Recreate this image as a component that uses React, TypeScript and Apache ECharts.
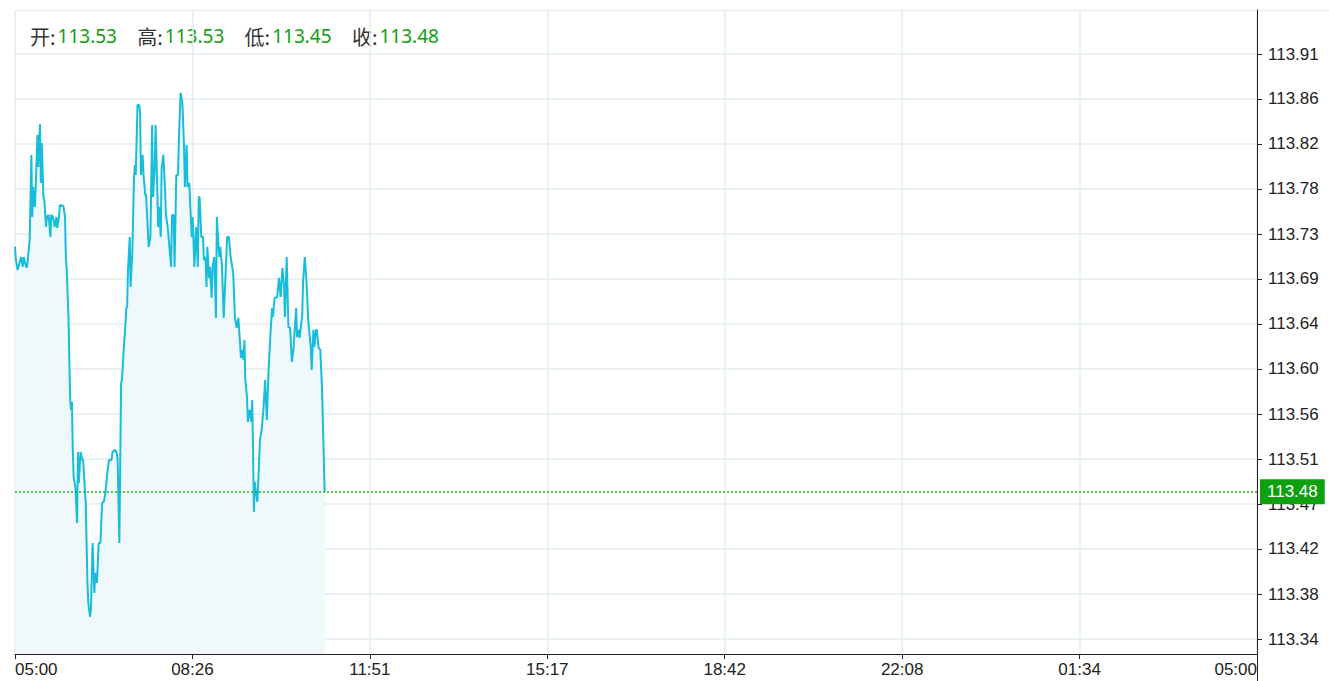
import React, { useEffect, useRef } from "react";
import * as echarts from "echarts";

// Minute quotes (time of day, price)
const times = [
  "05:00","05:01","05:03","05:07","05:09","05:10","05:13","05:14","05:17","05:19",
  "05:20","05:21","05:23","05:24","05:26","05:27","05:28","05:29","05:30","05:31",
  "05:33","05:34","05:36","05:37","05:39","05:41","05:42","05:44","05:46","05:48",
  "05:49","05:51","05:52","05:56","05:58","05:59","06:00","06:02","06:04","06:05",
  "06:06","06:07","06:08","06:10","06:12","06:13","06:14","06:16","06:18","06:19",
  "06:22","06:24","06:25","06:27","06:28","06:30","06:32","06:33","06:35","06:37",
  "06:39","06:41","06:43","06:45","06:47","06:49","06:52","06:53","06:56","06:58",
  "06:59","07:01","07:03","07:04","07:06","07:08","07:09","07:10","07:11","07:13",
  "07:14","07:16","07:18","07:19","07:20","07:22","07:24","07:25","07:26","07:28",
  "07:29","07:31","07:32","07:35","07:37","07:39","07:40","07:42","07:43","07:45",
  "07:46","07:47","07:49","07:50","07:52","07:54","07:55","07:57","07:59","08:01",
  "08:02","08:04","08:05","08:07","08:09","08:10","08:12","08:14","08:16","08:17",
  "08:19","08:20","08:22","08:24","08:25","08:26","08:28","08:30","08:32","08:33",
  "08:34","08:36","08:38","08:39","08:41","08:42","08:43","08:45","08:46","08:48",
  "08:49","08:51","08:53","08:54","08:56","08:57","08:58","09:00","09:02","09:04",
  "09:06","09:08","09:10","09:13","09:15","09:17","09:19","09:22","09:23","09:25",
  "09:26","09:27","09:29","09:30","09:32","09:34","09:35","09:36","09:37","09:38",
  "09:39","09:41","09:43","09:44","09:46","09:48","09:50","09:52","09:54","09:56",
  "09:58","09:59","10:01","10:04","10:06","10:08","10:10","10:12","10:13","10:15",
  "10:17","10:19","10:21","10:23","10:25","10:26","10:27","10:29","10:30","10:33",
  "10:34","10:36","10:38","10:40","10:41","10:43","10:44","10:46","10:47","10:49",
  "10:50","10:52","10:54","10:55","10:56","10:57","10:59",
];

const prices = [
  113.7191,113.7061,113.6964,113.7090,113.6993,113.7090,113.6993,113.6993,113.7256,113.8085,
  113.7480,113.7773,113.7578,113.7773,113.8280,113.7968,113.8231,113.8387,113.7812,113.8202,
  113.7675,113.7646,113.7383,113.7480,113.7500,113.7285,113.7500,113.7480,113.7383,113.7480,
  113.7373,113.7480,113.7597,113.7588,113.7480,113.7090,113.6964,113.6505,113.5696,113.5599,
  113.5677,113.5209,113.4945,113.4848,113.4497,113.5189,113.4887,113.5189,113.5111,113.5111,
  113.4692,113.3912,113.3717,113.3580,113.3649,113.4302,113.3814,113.4009,113.3912,113.4302,
  113.4302,113.4692,113.4702,113.4799,113.4984,113.5111,113.5111,113.5189,113.5209,113.5179,
  113.5111,113.4302,113.5862,113.5891,113.6184,113.6427,113.6593,113.6603,113.6964,113.7285,
  113.6798,113.7129,113.7870,113.7987,113.7890,113.8572,113.8572,113.8504,113.7890,113.8085,
  113.7890,113.7695,113.7695,113.7188,113.7285,113.8377,113.7675,113.7958,113.8377,113.7744,
  113.7383,113.7578,113.7285,113.7958,113.8085,113.7744,113.7500,113.7383,113.7188,113.6993,
  113.7500,113.7500,113.6993,113.7890,113.7890,113.8231,113.8689,113.8602,113.8163,113.7773,
  113.8182,113.7773,113.7812,113.7451,113.7285,113.7480,113.6993,113.7383,113.6993,113.7675,
  113.7675,113.7285,113.7285,113.7061,113.7090,113.6798,113.7188,113.6886,113.6993,113.6691,
  113.6993,113.7090,113.6496,113.7480,113.7188,113.7090,113.7188,113.6993,113.6496,113.6895,
  113.7285,113.7285,113.7090,113.6934,113.6496,113.6398,113.6496,113.6106,113.6184,113.6086,
  113.6281,113.5891,113.5725,113.5482,113.5599,113.5482,113.5696,113.5209,113.4604,113.4897,
  113.4819,113.4702,113.5082,113.5306,113.5404,113.5599,113.5891,113.5501,113.5989,113.6310,
  113.6593,113.6505,113.6691,113.6700,113.6886,113.6700,113.6983,113.6798,113.6505,113.7090,
  113.6408,113.6398,113.6067,113.6203,113.6476,113.6593,113.6310,113.6379,113.6301,113.6525,
  113.6847,113.7090,113.6847,113.6476,113.6379,113.6203,113.5989,113.6379,113.6213,113.6379,
  113.6379,113.6203,113.6184,113.5989,113.5794,113.5472,113.4800,
];

const xTickLabels = ["05:00", "08:26", "11:51", "15:17", "18:42", "22:08", "01:34", "05:00"];
const yTicks = [
  113.3365, 113.3804, 113.4243, 113.4681, 113.512, 113.5559, 113.5998,
  113.6437, 113.6876, 113.7314, 113.7753, 113.8192, 113.8631, 113.9069,
];
const yMin = 113.3219;
const yMax = 113.9498;
const ohlcNames = ["开", "高", "低", "收"];
const ohlcValues = [113.53, 113.53, 113.45, 113.48];
const lastPrice = 113.48;

const SESSION_START = 5 * 60;
const DAY = 1440;
const toMinutes = (t: string) => {
  const [h, m] = t.split(":").map(Number);
  return (h * 60 + m - SESSION_START + DAY) % DAY;
};

const GREEN = "#0fa00f";
const LINE = "#17bdda";
const GRID = "#e2ecf1";
const AXIS = "#222";
const LABEL_FONT = "Liberation Sans, Arial, sans-serif";

export default function App() {
  const ref = useRef<HTMLDivElement>(null);
  useEffect(() => {
    if (!ref.current) return;
    const chart = echarts.init(ref.current, undefined, { renderer: "svg" });
    const data = times.map((t, i) => [toMinutes(t), prices[i]]);
    const step = DAY / (xTickLabels.length - 1);
    const graphics: any[] = [];
    ohlcNames.forEach((n, i) => {
      graphics.push({
        type: "text",
        x: 30 + i * 107.3,
        y: 36,
        style: {
          text: `{l|${n}:}{v|${ohlcValues[i].toFixed(2)}}`,
          verticalAlign: "middle",
          rich: {
            l: {
              fill: "#333",
              fontSize: 20,
              fontFamily: '"Noto Sans CJK SC", "Noto Sans", sans-serif',
            },
            v: {
              fill: GREEN,
              fontSize: 19,
              fontFamily: '"Noto Sans", sans-serif',
              padding: [0, 0, 0, 2],
            },
          },
        },
      });
    });
    graphics.push({
      type: "line",
      shape: { x1: 15, y1: 10.5, x2: 1329, y2: 10.5 },
      style: { stroke: GRID, lineWidth: 1 },
    });
    graphics.push({
      type: "line",
      shape: { x1: 1257.5, y1: 654, x2: 1257.5, y2: 681 },
      style: { stroke: AXIS, lineWidth: 1 },
    });
    chart.setOption({
      animation: false,
      grid: { left: 15, right: 72, top: 10, bottom: 27, containLabel: false },
      xAxis: {
        type: "value",
        min: 0,
        max: DAY,
        interval: step,
        axisLine: { show: true, onZero: false, lineStyle: { color: AXIS, width: 1 } },
        axisTick: { show: true, length: 5, lineStyle: { color: AXIS } },
        axisLabel: {
          color: "#222",
          fontSize: 17,
          fontFamily: LABEL_FONT,
          margin: 7,
          alignMinLabel: "left",
          alignMaxLabel: "right",
          formatter: (v: number) => xTickLabels[Math.round(v / step)] ?? "",
        },
        splitLine: { show: true, lineStyle: { color: GRID, width: 1.5 } },
      },
      yAxis: {
        type: "value",
        position: "right",
        min: yMin,
        max: yMax,
        scale: true,
        axisLine: { show: true, onZero: false, lineStyle: { color: AXIS, width: 1 } },
        axisTick: {
          show: true,
          inside: false,
          length: 5,
          lineStyle: { color: AXIS },
          customValues: yTicks,
        },
        axisLabel: {
          color: "#222",
          fontSize: 17,
          fontFamily: LABEL_FONT,
          margin: 11,
          customValues: yTicks,
          formatter: (v: number) => v.toFixed(2),
        },
        splitLine: { show: true, lineStyle: { color: GRID, width: 1.5 } },
      },
      series: [
        {
          type: "line",
          data,
          showSymbol: false,
          symbol: "none",
          lineStyle: { color: LINE, width: 2 },
          areaStyle: { color: "#eff9fc", opacity: 1, origin: "start" },
          z: 3,
          markLine: {
            silent: true,
            symbol: "none",
            lineStyle: { color: "#22b022", type: [2, 2], width: 1.5 },
            label: {
              show: true,
              position: "end",
              distance: 3,
              formatter: () => lastPrice.toFixed(2),
              color: "#fff",
              backgroundColor: GREEN,
              padding: [4, 7, 4, 7],
              fontSize: 17,
              fontFamily: LABEL_FONT,
            },
            data: [{ yAxis: lastPrice }],
          },
        },
      ],
      graphic: graphics,
    });
    return () => chart.dispose();
  }, []);
  return (
    <div
      ref={ref}
      style={{ position: "fixed", left: 0, top: 0, width: 1329, height: 681, background: "#fff" }}
    />
  );
}
